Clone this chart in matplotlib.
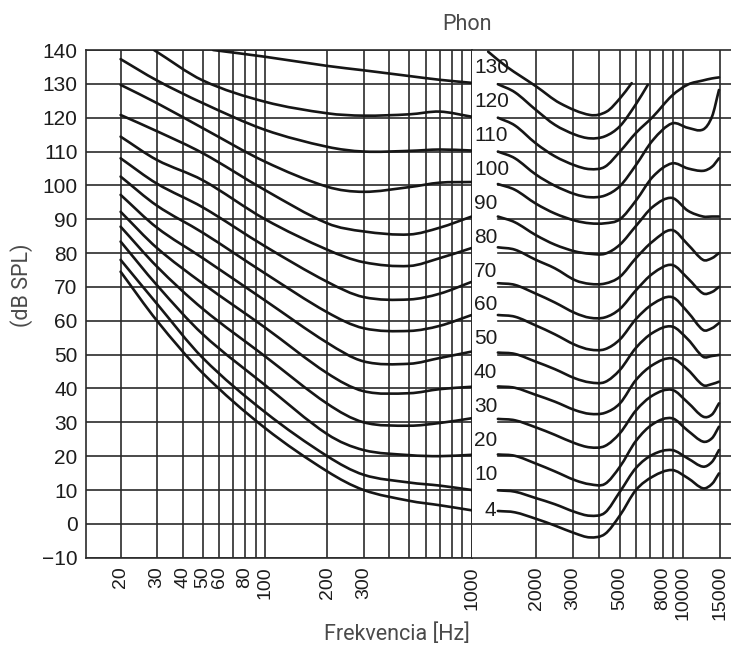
import numpy as np
import matplotlib
matplotlib.use("Agg")
import matplotlib.pyplot as plt
from matplotlib.path import Path
from matplotlib.patches import PathPatch
from matplotlib.transforms import blended_transform_factory

nan = np.nan
PHON = [130, 120, 110, 100, 90, 80, 70, 60, 50, 40, 30, 20, 10, 4]

# ---------------- left panel: 20 Hz .. 1000 Hz ----------------
LEFT_F = [20, 30, 50, 100, 200, 300, 500, 700, 1000]
LEFT_ENTRY_F = {130: 56, 120: 29}          # curve enters from the 140 dB top edge
LEFT_DB = {
    130: [nan, nan, nan, 138.0, 135.3, 134.0, 132.3, 131.2, 130.3],
    120: [nan, nan, 131.0, 124.7, 121.3, 120.6, 121.0, 121.8, 120.3],
    110: [137.3, 131.0, 124.3, 116.4, 111.4, 110.0, 110.2, 110.6, 110.3],
    100: [129.7, 124.3, 116.9, 107.0, 99.6, 98.1, 99.5, 100.8, 101.0],
    90:  [120.8, 116.0, 109.5, 98.6, 88.8, 86.4, 85.5, 87.5, 90.8],
    80:  [114.4, 107.5, 101.5, 90.0, 81.0, 77.3, 76.2, 78.5, 81.5],
    70:  [108.0, 100.5, 93.5, 82.0, 71.5, 67.0, 66.3, 68.0, 71.5],
    60:  [102.6, 94.0, 86.0, 74.0, 62.5, 57.8, 57.0, 58.5, 61.7],
    50:  [97.2, 87.5, 78.5, 66.0, 53.5, 48.0, 47.3, 49.0, 50.9],
    40:  [92.2, 81.5, 71.0, 58.0, 44.5, 39.2, 38.6, 39.8, 40.5],
    30:  [87.8, 76.0, 63.5, 49.5, 35.5, 30.0, 29.0, 29.8, 31.2],
    20:  [83.4, 70.5, 56.0, 41.0, 26.5, 21.8, 20.3, 20.0, 20.4],
    10:  [78.0, 65.0, 49.0, 33.0, 20.0, 14.5, 12.2, 11.3, 10.0],
    4:   [74.5, 60.0, 44.5, 28.3, 15.5, 10.0, 6.8, 5.5, 4.0],
}

# ---------------- right panel: ~1.3 kHz .. 15 kHz ----------------
RIGHT_F = [1315, 1585, 1995, 2456, 3062, 3608, 4251, 5012, 5972, 7197,
           8862, 10563, 12454, 13744, 14840]
RIGHT_TOP_F = [1182, 1446, 2005, 2594, 3610, 4330, 5010, 5700]
RIGHT_TOP_DB = [139.5, 135.1, 129.2, 124.3, 120.8, 121.8, 125.7, 130.2]
RIGHT_END = {130: (6800, 129.7)}
RIGHT_DB = {
    130: [129.9, 127.5, 122.3, 117.9, 115.0, 113.9, 114.5, 117.5, 124.0, nan, nan, nan, nan, nan, nan],
    120: [120.0, 117.7, 112.4, 108.6, 105.9, 104.8, 105.5, 110.0, 115.5, 120.3, 126.5, 129.8, 131.0, 131.6, 131.9],
    110: [110.0, 108.0, 103.2, 99.9, 97.4, 96.5, 97.0, 99.8, 106.0, 113.4, 118.3, 117.0, 116.5, 120.3, 128.2],
    100: [100.4, 98.7, 94.6, 91.7, 89.6, 88.8, 88.8, 90.0, 95.5, 102.6, 106.5, 105.0, 104.3, 105.5, 108.0],
    90:  [90.8, 89.1, 85.3, 82.5, 80.5, 79.8, 79.8, 82.5, 88.0, 93.7, 96.3, 92.5, 90.8, 90.8, 90.8],
    80:  [81.7, 81.0, 78.0, 75.5, 72.0, 70.9, 71.0, 73.0, 78.5, 83.5, 86.8, 82.5, 78.0, 78.5, 80.0],
    70:  [71.1, 70.6, 68.0, 65.4, 62.3, 60.9, 61.0, 63.5, 69.0, 74.0, 76.5, 72.5, 68.1, 68.5, 70.0],
    60:  [61.7, 61.2, 58.6, 56.0, 52.9, 51.5, 51.6, 54.5, 60.5, 65.0, 67.0, 62.5, 57.3, 57.8, 59.3],
    50:  [50.6, 50.2, 47.9, 45.7, 43.0, 41.8, 41.9, 45.5, 52.0, 56.5, 58.3, 54.5, 49.4, 49.6, 49.9],
    40:  [40.6, 40.2, 38.1, 36.1, 33.6, 32.5, 32.8, 35.6, 42.5, 47.0, 48.9, 45.5, 41.0, 41.3, 42.0],
    30:  [31.0, 30.6, 28.5, 26.3, 23.8, 22.6, 23.0, 26.8, 33.5, 38.0, 39.6, 35.8, 31.7, 32.3, 35.6],
    20:  [20.5, 20.1, 17.8, 15.5, 12.9, 11.7, 11.8, 16.9, 24.5, 29.5, 31.2, 27.5, 24.3, 25.3, 28.7],
    10:  [9.9, 9.5, 7.6, 5.8, 3.5, 2.4, 3.3, 9.5, 16.5, 20.5, 21.8, 19.3, 16.9, 18.3, 21.8],
    4:   [3.8, 3.4, 1.5, -0.5, -2.8, -4.0, -3.0, 2.5, 10.0, 14.0, 15.9, 13.5, 10.5, 11.8, 14.9],
}

# ticks / grid
Y_TICKS = list(range(-10, 141, 10))
LEFT_GRID_F = [20, 30, 40, 50, 60, 70, 80, 90, 100, 200, 300, 400, 500, 600, 700, 800, 900, 1000]
LEFT_LABEL_F = [20, 30, 40, 50, 60, 80, 100, 200, 300, 1000]
RIGHT_GRID_F = [2000, 3000, 4000, 5000, 6000, 7000, 8000, 9000, 10000, 15000]
RIGHT_LABEL_F = [2000, 3000, 5000, 8000, 10000, 15000]

# ---------------- drawing ----------------
W, H = 731, 645
fig = plt.figure(figsize=(W / 100, H / 100), dpi=100)
GRID_C = "#2a2a2a"
CURVE_C = "#161616"
GLW = 1.2
CLW = 1.9
Y_FS = 15
X_FS = 14
TICK_C = "#1c1c1c"
TICK_FONT = ["Liberation Sans", "DejaVu Sans"]

x_left, x_mid, x_right = 86, 471.7, 731
y_top, y_bot = 50, 557.7
b = 1 - y_bot / H
h = (y_bot - y_top) / H

ax1 = fig.add_axes([x_left / W, b, (x_mid - x_left) / W, h])
ax2 = fig.add_axes([x_mid / W, b, (x_right - x_mid) / W, h])

for ax in (ax1, ax2):
    ax.set_xscale("log")
    ax.set_ylim(-10, 140)
    ax.minorticks_off()
    for s in ax.spines.values():
        s.set_color(GRID_C)
        s.set_linewidth(GLW)
    ax.tick_params(axis="both", which="both", length=0, colors=TICK_C)

ax1.set_xlim(13.6, 1000)
ax2.set_xlim(987, 16930)

# left grid
for f in LEFT_GRID_F:
    ax1.axvline(f, color=GRID_C, lw=GLW, zorder=1)
for y in Y_TICKS:
    ax1.axhline(y, color=GRID_C, lw=GLW, zorder=1)
# right grid (horizontal lines skip the label column, except 0 dB)
gap_frac = (498 - x_mid) / (x_right - x_mid)
for f in RIGHT_GRID_F:
    ax2.axvline(f, color=GRID_C, lw=GLW, zorder=1)
for y in Y_TICKS:
    if y in (-10, 140):
        continue
    ax2.axhline(y, xmin=0 if y == 0 else gap_frac, color=GRID_C, lw=GLW, zorder=1)

ax2.spines["left"].set_visible(False)
ax2.spines["right"].set_visible(False)

# ticks
ax1.set_yticks(Y_TICKS)
ax1.set_yticklabels([str(v).replace("-", "\u2212") for v in Y_TICKS],
                    family=TICK_FONT, fontsize=Y_FS)
ax1.tick_params(axis="y", pad=6)
ax1.set_xticks(LEFT_LABEL_F)
ax1.set_xticklabels([str(v) for v in LEFT_LABEL_F], rotation=90,
                    family=TICK_FONT, fontsize=X_FS)
ax1.tick_params(axis="x", pad=6)
ax2.set_yticks([])
ax2.set_xticks(RIGHT_LABEL_F)
ax2.set_xticklabels([str(v) for v in RIGHT_LABEL_F], rotation=90,
                    family=TICK_FONT, fontsize=X_FS)
ax2.tick_params(axis="x", pad=6)


def smooth_curve(ax, fs, ds):
    """Draw a smooth line through the read points (cubic Hermite in log-f space)."""
    u = np.log10(np.asarray(fs, float))
    v = np.asarray(ds, float)
    n = len(u)
    m = np.empty(n)
    for i in range(n):
        if i == 0:
            m[i] = (v[1] - v[0]) / (u[1] - u[0])
        elif i == n - 1:
            m[i] = (v[-1] - v[-2]) / (u[-1] - u[-2])
        else:
            m[i] = (v[i + 1] - v[i - 1]) / (u[i + 1] - u[i - 1])
    verts = [(u[0], v[0])]
    codes = [Path.MOVETO]
    for i in range(n - 1):
        du = u[i + 1] - u[i]
        verts += [(u[i] + du / 3, v[i] + m[i] * du / 3),
                  (u[i + 1] - du / 3, v[i + 1] - m[i + 1] * du / 3),
                  (u[i + 1], v[i + 1])]
        codes += [Path.CURVE4] * 3
    verts = [(10 ** a, c) for a, c in verts]
    patch = PathPatch(Path(verts, codes), facecolor="none", edgecolor=CURVE_C,
                      lw=CLW, zorder=3, capstyle="round", joinstyle="round")
    ax.add_patch(patch)


# curves left
for p in PHON:
    pts = [(f, d) for f, d in zip(LEFT_F, LEFT_DB[p]) if not np.isnan(d)]
    if p in LEFT_ENTRY_F:
        pts = [(LEFT_ENTRY_F[p], 140.0)] + pts
    xs, ys = zip(*pts)
    smooth_curve(ax1, xs, ys)

# curves right
smooth_curve(ax2, RIGHT_TOP_F, RIGHT_TOP_DB)
for p in PHON:
    pts = [(f, d) for f, d in zip(RIGHT_F, RIGHT_DB[p]) if not np.isnan(d)]
    if p in RIGHT_END:
        pts = pts + [RIGHT_END[p]]
    xs, ys = zip(*pts)
    smooth_curve(ax2, xs, ys)

# phon labels in the column after 1000 Hz
trans = blended_transform_factory(ax2.transAxes, ax2.transData)
lx = (474 - x_mid) / (x_right - x_mid)
for p in PHON:
    if p == 4:
        ax2.text((496 - x_mid) / (x_right - x_mid), 3.8, "4", transform=trans,
                 ha="right", va="center", fontsize=Y_FS, family=TICK_FONT,
                 color=TICK_C, zorder=4)
    else:
        ax2.text(lx, p + 4.7, str(p), transform=trans, ha="left", va="center",
                 fontsize=Y_FS, family=TICK_FONT, color=TICK_C, zorder=2)

# titles
TITLE_FONT = ["Roboto", "DejaVu Sans"]
TITLE_C = "#4a4a4a"
fig.text(467 / W, 1 - 25 / H, "Phon", ha="center", va="center",
         fontsize=15.5, family=TITLE_FONT, color=TITLE_C)
fig.text(397 / W, 1 - 634 / H, "Frekvencia [Hz]", ha="center", va="center",
         fontsize=15.5, family=TITLE_FONT, color=TITLE_C)
fig.text(22 / W, 1 - 285 / H, "(dB SPL)", ha="center", va="center",
         rotation=90, fontsize=15.5, family=TITLE_FONT, color=TITLE_C)

fig.savefig("out.png", dpi=100, facecolor="white")
